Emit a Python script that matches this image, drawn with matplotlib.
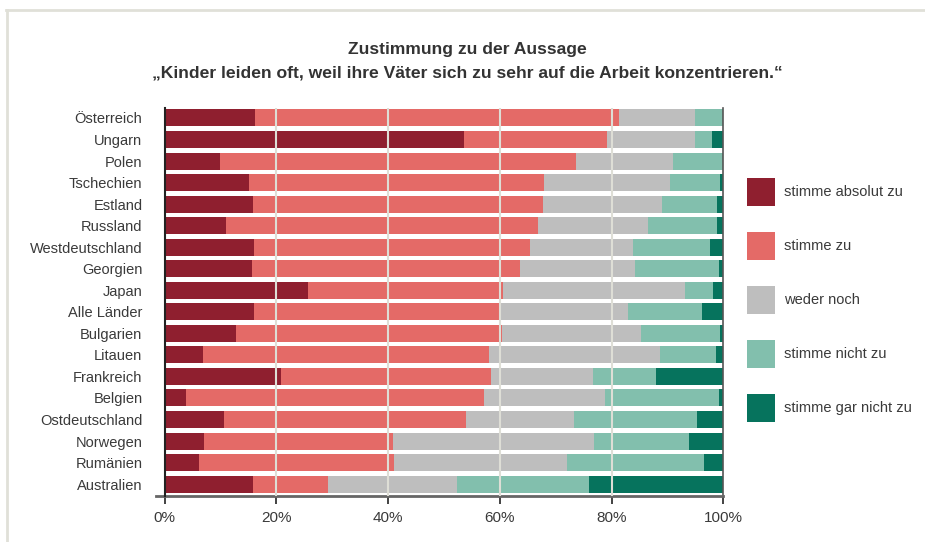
import numpy as np
import matplotlib
matplotlib.use('Agg')
import matplotlib.pyplot as plt
from matplotlib.patches import Patch

plt.rcParams['font.family'] = ['Liberation Sans', 'DejaVu Sans']

laender = ['Österreich', 'Ungarn', 'Polen', 'Tschechien', 'Estland', 'Russland',
           'Westdeutschland', 'Georgien', 'Japan', 'Alle Länder', 'Bulgarien',
           'Litauen', 'Frankreich', 'Belgien', 'Ostdeutschland', 'Norwegen',
           'Rumänien', 'Australien']

absolut = [16.2, 53.6, 9.9, 15.1, 15.8, 11.0, 16.0, 15.6, 25.6, 16.0, 12.8, 6.9, 20.8, 3.8, 10.6, 7.0, 6.1, 15.8]
zu = [65.1, 25.5, 63.7, 52.8, 51.9, 55.8, 49.4, 48.0, 35.0, 44.2, 47.5, 51.1, 37.6, 53.3, 43.3, 33.8, 34.9, 13.4]
weder = [13.6, 15.8, 17.3, 22.5, 21.3, 19.8, 18.4, 20.5, 32.5, 22.7, 24.9, 30.6, 18.2, 21.7, 19.3, 36.0, 31.1, 23.1]
nicht = [5.1, 3.1, 9.1, 9.0, 9.8, 12.2, 13.8, 15.1, 5.0, 13.3, 14.2, 10.0, 11.3, 20.5, 22.0, 17.0, 24.4, 23.6]
gar_nicht = [0.0, 2.0, 0.0, 0.6, 1.2, 1.2, 2.4, 0.8, 1.9, 3.8, 0.6, 1.4, 12.1, 0.7, 4.8, 6.2, 3.5, 24.1]

kategorien = ['stimme absolut zu', 'stimme zu', 'weder noch', 'stimme nicht zu', 'stimme gar nicht zu']
farben = ['#8f1f2f', '#e46a67', '#bebebe', '#82bfad', '#06735d']

fig = plt.figure(figsize=(9.25, 5.42), dpi=100)
ax = fig.add_axes([0.178, 0.085, 0.604, 0.716])

y = np.arange(len(laender))
links = np.zeros(len(laender))
for werte, farbe in zip([absolut, zu, weder, nicht, gar_nicht], farben):
    ax.barh(y, werte, left=links, height=0.79, color=farbe, zorder=1)
    links += np.array(werte)

ax.set_xlim(0, 100)
ax.set_ylim(len(laender) - 0.45, -0.47)
ax.set_yticks(y)
ax.set_yticklabels(laender, fontsize=10.5, color='#3a3a3a')
ax.tick_params(axis='y', length=0, pad=16)
ax.set_xticks([0, 20, 40, 60, 80, 100])
ax.set_xticklabels(['0%', '20%', '40%', '60%', '80%', '100%'], fontsize=11, color='#3a3a3a')
ax.tick_params(axis='x', length=6, width=1.2, color='#222222', direction='out', pad=5)

for xg in [20, 40, 60, 80]:
    ax.axvline(xg, color='#deded6', lw=1.5, zorder=3)

ax.spines['top'].set_visible(False)
ax.spines['left'].set_color('#222222')
ax.spines['left'].set_linewidth(1.5)
ax.spines['right'].set_color('#555555')
ax.spines['right'].set_linewidth(1.2)
ax.spines['bottom'].set_color('#666666')
ax.spines['bottom'].set_linewidth(2)
ax.spines['bottom'].set_bounds(-1.5, 100)
ax.spines['left'].set_zorder(4)

fig.text(0.505, 0.887, 'Zustimmung zu der Aussage\n„Kinder leiden oft, weil ihre Väter sich zu sehr auf die Arbeit konzentrieren.“',
         ha='center', va='center', fontsize=12.6, fontweight='bold', color='#333333', linespacing=1.65)

handles = [Patch(facecolor=f, edgecolor='none') for f in farben]
fig.legend(handles, kategorien, loc='upper left', bbox_to_anchor=(0.8076, 0.672),
           frameon=False, fontsize=10.5, labelcolor='#3a3a3a', handlelength=1.92, handleheight=2.58,
           handletextpad=0.6, labelspacing=1.78, borderaxespad=0, borderpad=0)

# Rahmen
fig.add_artist(plt.Line2D([0.006, 1.0], [1 - 10 / 542, 1 - 10 / 542], color='#e0e0d8', lw=2, transform=fig.transFigure))
fig.add_artist(plt.Line2D([0.008, 0.008], [1 - 10 / 542, 0.0], color='#e0e0d8', lw=2, transform=fig.transFigure))

fig.savefig('out.png', dpi=100)
